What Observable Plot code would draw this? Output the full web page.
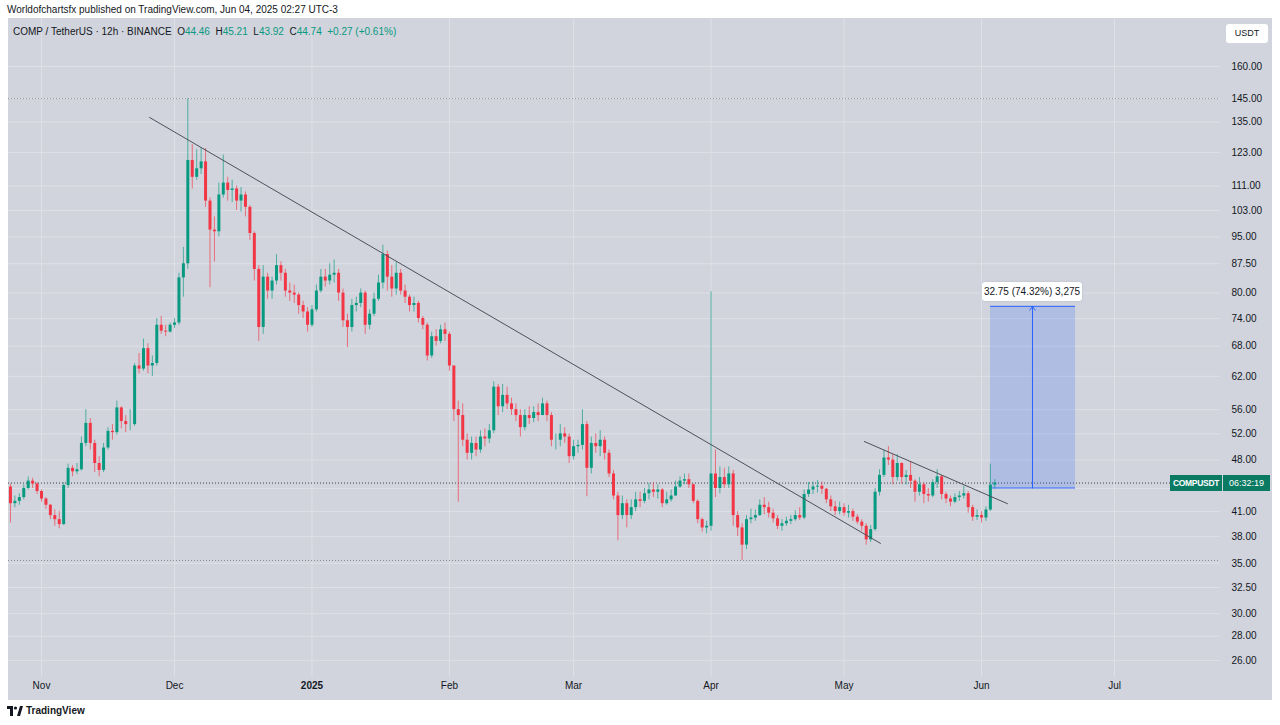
<!DOCTYPE html>
<html><head><meta charset="utf-8">
<script src="https://cdn.jsdelivr.net/npm/d3@7"></script>
<script src="https://cdn.jsdelivr.net/npm/@observablehq/plot@0.6"></script>
<style>
body{margin:0;background:#fff;width:1280px;height:725px;overflow:hidden;font-family:"Liberation Sans",Arial,sans-serif;position:relative;color:#131722}
#hdr{position:absolute;left:7px;top:4px;font-size:10px;color:#131722}
#pane{position:absolute;left:0;top:18px;width:1280px;height:682px}
#bg{position:absolute;left:8px;top:0;width:1264px;height:682px;background:#d1d4dc}
#chart{position:absolute;left:0;top:0}
#legend{position:absolute;left:13px;top:8px;font-size:10px;color:#131722;white-space:nowrap}
#legend .g{color:#089981}
#usdt{position:absolute;left:1226px;top:6px;width:42px;height:19px;background:#fff;border-radius:3px;font-size:9px;line-height:19px;text-align:center;color:#131722}
.lbl{position:absolute;background:#fff;border-radius:3px;font-size:10px;line-height:19px;height:19px;text-align:center;color:#131722;box-shadow:0 0 2px rgba(0,0,0,.15)}
.tag{position:absolute;height:16px;line-height:16px;background:#0b7a63;color:#fff;font-size:9px;white-space:nowrap}
#foot{position:absolute;left:7px;top:705px;font-size:10px;font-weight:bold;color:#131722;display:flex;align-items:center;gap:3px}
</style></head>
<body>
<div id="hdr">Worldofchartsfx published on TradingView.com, Jun 04, 2025 02:27 UTC-3</div>
<div id="pane"><div id="bg"></div><div id="chart"></div>
<div id="legend">COMP / TetherUS · 12h · BINANCE&nbsp; O<span class="g">44.46</span>&nbsp; H<span class="g">45.21</span>&nbsp; L<span class="g">43.92</span>&nbsp; C<span class="g">44.74</span>&nbsp; <span class="g">+0.27 (+0.61%)</span></div>
<div id="usdt">USDT</div>
</div>
<div id="foot"><svg width="16" height="10" viewBox="0 0 16 10"><rect x="0" y="0" width="6" height="3" fill="#131722"/><rect x="3" y="0" width="3" height="10" fill="#131722"/><circle cx="8.5" cy="2" r="1.6" fill="#131722"/><path d="M10 10 L13 0 L16 0 L13 10 Z" fill="#131722"/></svg><span>TradingView</span></div>
<script>
// ---- data: daily OHLC (Oct 25 2024 .. Jun 4 2025) ----
const firstDate = "2024-10-25";
const firstOpen = 44.2;
const close = [
 42.0,42.3,42.8,44.0,45.0,44.6,43.6,
 42.6,41.8,40.5,40.0,39.4,44.4,46.8,46.3,46.6,50.5,53.7,50.5,47.5,46.5,49.8,52.4,52.2,56.3,54.0,53.5,53.5,64.0,63.4,67.5,64.0,64.5,72.5,71.2,71.0,72.5,
 73.0,83.8,87.5,120.0,114.0,117.0,119.5,106.0,97.0,96.5,108.0,112.0,109.5,110.0,106.0,108.0,104.0,96.0,86.0,72.0,84.0,80.5,83.0,87.0,85.0,80.5,80.0,79.5,77.0,75.5,72.5,
 76,80.5,84,83,84.5,85,80,73.5,72,77,77.5,80,72.5,75,78.5,82.5,90,84,81,85,80.5,79,77,77.5,74,72.5,66,70,69,71.5,70.5,
 64,56,55,51,49,50.5,49.5,51.5,51.2,52.5,60,56.5,58.5,57,56,55,53,55,54.5,55.5,55,57,55,51,51,52,51.5,48.5,
 50,50.2,53.5,46.8,50.5,50,51,49,46,43,40.5,42,40.5,41.5,42.5,42.3,43.3,43.8,43.5,43.8,42,42.5,43,44.2,45,45.2,44.5,42.3,40,39,39.2,
 46,44,45.5,44.5,46,40.5,39,37,40,40.2,40.5,41.8,41.5,40.8,40.1,39.2,39.5,39.8,40,40.5,40.2,43.2,43.8,44.2,44.3,43.9,42.5,41.6,41,41.5,
 40.8,41,40.3,39.7,39.2,37.6,38.8,43.5,45.8,48.3,48,45.5,47.5,45.5,45.8,45,43.5,44.5,43.2,43,44.8,45.6,43.2,42.6,42.2,42.8,43,43.3,41.5,40.3,40.5,
 40.2,41.2,44.46,44.74
];
const high = [
 44.6,43.0,43.3,44.5,45.6,45.4,44.8,
 43.8,42.8,41.9,41.2,41.0,44.8,47.4,47.2,47.5,51.5,56.0,54.5,51.0,48.5,50.5,53.0,53.5,57.5,56.5,55.0,56.0,64.5,66.5,69.5,68.5,66.0,74.0,74.5,72.5,73.0,
 74.0,85.0,92.0,145.0,126.0,124.0,124.5,124.5,107.0,101.0,112.0,122.0,114.0,113.0,111.0,110.5,109.0,104.5,96.5,87.0,87.0,85.0,84.0,90.0,88.0,86.0,82.5,82.0,80.0,78.0,76.5,
 77,82,86,86,87.5,88.5,86,81,75,78.5,79,81,80.5,76,80,84.5,92.6,91,87,88,86,82,79.5,79,78,74.5,73,71,71.5,72.5,73,
 71,64,57.5,57,52,51.5,51.5,52.5,52.8,53.5,61,60.5,60.5,60,58,57,56,56,56.5,56.5,57,58,57.5,55.5,52,53.5,53,52,
 51,51,56,54,51.5,52,52.5,51.5,49.5,46.5,43.5,43,42.5,42.5,43.5,43.5,44,44.7,44.8,44.5,44,43.5,43.8,45,45.6,46,46,44.6,42.5,40.2,39.8,
 80.3,49.5,47,46.8,47,46.5,41,39.5,40.5,41.3,41.2,42.5,42.8,42.2,41.3,40.5,40,40.3,40.5,41.1,41.5,43.8,44.8,44.9,45.1,44.9,44,43,42.3,42.2,
 42,41.8,41.3,40.6,40,39.5,39.3,44,46.6,49.5,50,48.8,48.8,47.6,46.5,47.8,45.2,45.5,44.8,44,45.2,46.6,45.8,43.5,43,43.3,43.6,44.3,43.6,41.8,41.2,
 41,41.6,47.4,45.21
];
const low = [
 39.6,41.5,41.8,42.5,43.8,44.0,43.2,
 42.2,41.3,40.0,39.2,38.9,39.3,44.0,45.6,45.9,46.4,50.0,49.5,46.2,45.6,46.2,49.5,51.0,51.8,52.8,52.2,52.5,53.2,62.5,63.0,62.5,62.0,64.0,70.5,70.0,70.8,
 71.8,72.5,79.0,86.0,110.0,113.0,115.0,104.0,81.3,88.0,95.0,107.0,106.0,105.5,103.0,102.5,101.0,94.0,83.0,69.0,70.5,78.5,78.5,82.0,83.0,79.0,78.0,77.5,75.0,74.0,71.0,
 72,75.5,80,81.5,82,82.5,78,72,67.7,71,75.5,76.5,70.5,71.5,74.5,78,81,80.5,79,79.5,79.5,77.5,75.5,75.5,73,71.5,65,65.5,68,68.5,69,
 63,54,42.2,50,48,48,48.5,49,50,50.5,52,55,55.5,56,55,54,51.5,52.5,53.5,53.8,54,55,54,50,49.5,50,50.5,47.5,
 48,49,49.5,42.9,46,49,48.5,48,45.5,42.5,37.5,40,39,40,41,41.5,42,42.5,42.8,42.6,41.5,41.8,42.2,43,44,44.5,44,42,39.5,38.5,38.3,
 38.6,42.8,43.3,44,44,39.2,38,35.3,36.5,39.5,39.8,40.4,40.6,40.2,39.6,38.8,38.6,39.2,39.4,39.8,39.9,40,42.8,43.2,43.4,43.2,42,41,40.5,40.6,
 40.4,40.2,39.8,39.4,38.6,37.0,37.3,38.6,43.0,45.5,47.2,44.5,45,44.6,44.5,44,42.2,43,42,42.2,42.8,44,42.5,42,41.6,42,42.3,42.6,40.8,39.8,39.9,
 39.6,39.8,41,43.92
];
const yTicks = [26,28,30,32.5,35,38,41,44,48,52,56,62,68,74,80,87.5,95,103,111,123,135,145,160];
const hiddenTick = 44; // its label sits under the last-price tag
const monthTicks = ["2024-11-01","2024-12-01","2025-01-01","2025-02-01","2025-03-01","2025-04-01","2025-05-01","2025-06-01","2025-07-01"];
const monthLabels = ["Nov","Dec","2025","Feb","Mar","Apr","May","Jun","Jul"];
const trendLong = [{date:"2024-11-25T09:00Z", value:136.9},{date:"2025-05-09T05:00Z", value:37.2}];
const trendShort = [{date:"2025-05-05T14:00Z", value:50.8},{date:"2025-06-06T20:40Z", value:42.0}];
const highLine = 145, lowLine = 35.3, lastPrice = 44.74;
const range = {x1:"2025-06-03T01:00Z", x2:"2025-06-22T05:00Z", xm:"2025-06-12T12:00Z", from:44.07, to:76.82};
const rangeText = "32.75 (74.32%) 3,275";

// ---- build ----
const DAY = 864e5;
const t0 = Date.parse(firstDate + "T00:00Z");
const rows = close.map((c,i)=>({date:new Date(t0+i*DAY), open:i?close[i-1]:firstOpen, high:high[i], low:low[i], close:c}));
const UP = "#089981", DN = "#f23645";
const col = d => d.close >= d.open ? UP : DN;
const months = monthTicks.map(s=>new Date(s+"T00:00Z"));
const mrows = months.map((d,i)=>({date:d,label:monthLabels[i]}));
const nov1 = Date.UTC(2024,10,1), ppd = 4.434;
const xDomain = [new Date(nov1 - (41-8)/ppd*DAY), new Date(nov1 + (1220-41)/ppd*DAY)];
const parse = a => a.map(d=>({date:new Date(d.date), value:d.value}));
const rng = [{x1:new Date(range.x1), x2:new Date(range.x2), xm:new Date(range.xm), y1:range.from, y2:range.to}];

const plot = Plot.plot({
  width:1280, height:682, marginLeft:8, marginRight:60, marginTop:0, marginBottom:23,
  style:{background:"transparent", fontFamily:"'Liberation Sans', Arial, sans-serif", fontSize:"10px", color:"#131722"},
  x:{type:"utc", domain:xDomain, axis:null},
  y:{type:"log", domain:[24.68,185.3], axis:null},
  marks:[
    Plot.gridY(yTicks, {stroke:"#dde0e6", strokeOpacity:1}),
    Plot.gridX(months, {stroke:"#dde0e6", strokeOpacity:1}),
    Plot.ruleY([highLine], {stroke:"#8d9099", strokeDasharray:"1,2"}),
    Plot.ruleY([lowLine], {stroke:"#8d9099", strokeDasharray:"1,2"}),
    Plot.ruleY([lastPrice], {stroke:"#3d404a", strokeDasharray:"1,2"}),
    Plot.rect(rng, {x1:"x1", x2:"x2", y1:"y1", y2:"y2", fill:"#2962ff", fillOpacity:0.2}),
    Plot.ruleY(rng, {x1:"x1", x2:"x2", y:"y1", stroke:"#2962ff", strokeWidth:1}),
    Plot.ruleY(rng, {x1:"x1", x2:"x2", y:"y2", stroke:"#2962ff", strokeWidth:1}),
    Plot.arrow(rng, {x1:"xm", x2:"xm", y1:"y1", y2:"y2", stroke:"#2962ff", strokeWidth:1, headLength:7, headAngle:70}),
    Plot.ruleX(rows, {x:"date", y1:"low", y2:"high", stroke:col, strokeOpacity:0.65, strokeWidth:1}),
    Plot.ruleX(rows, {x:"date", y1:"open", y2:"close", stroke:col, strokeWidth:3}),
    Plot.line(parse(trendLong), {x:"date", y:"value", stroke:"#4d505a", strokeWidth:1}),
    Plot.line(parse(trendShort), {x:"date", y:"value", stroke:"#4d505a", strokeWidth:1}),
    Plot.axisY(yTicks.filter(v=>v!==hiddenTick), {anchor:"right", tickSize:0, tickPadding:11, tickFormat:d=>d.toFixed(2), fill:"#131722", fontSize:10}),
    Plot.text(mrows.filter(d=>d.label!=="2025"), {x:"date", text:"label", frameAnchor:"bottom", dy:11, fill:"#131722", fontSize:10}),
    Plot.text(mrows.filter(d=>d.label==="2025"), {x:"date", text:"label", frameAnchor:"bottom", dy:11, fill:"#131722", fontSize:10, fontWeight:"bold"})
  ]
});
document.getElementById("chart").appendChild(plot);

const sx = plot.scale("x"), sy = plot.scale("y");
const pane = document.getElementById("pane");
// range label
const lb = document.createElement("div");
lb.className = "lbl"; lb.textContent = rangeText;
const lw = 100;
lb.style.width = lw+"px";
lb.style.left = (sx.apply(rng[0].xm) - lw/2) + "px";
lb.style.top = (sy.apply(range.to) - 24) + "px";
pane.appendChild(lb);
// last price tag
const py = sy.apply(lastPrice);
const t1 = document.createElement("div");
t1.className = "tag"; t1.textContent = "COMPUSDT";
t1.style.left = "1170px"; t1.style.width = "52px"; t1.style.textAlign = "center"; t1.style.fontWeight = "bold";
t1.style.fontSize = "8.5px"; t1.style.letterSpacing = "-0.3px";
t1.style.top = (py - 8) + "px";
pane.appendChild(t1);
const t2 = document.createElement("div");
t2.className = "tag"; t2.textContent = "06:32:19";
t2.style.left = "1223px"; t2.style.width = "47px"; t2.style.textAlign = "center";
t2.style.top = (py - 8) + "px";
pane.appendChild(t2);
</script>
</body></html>
